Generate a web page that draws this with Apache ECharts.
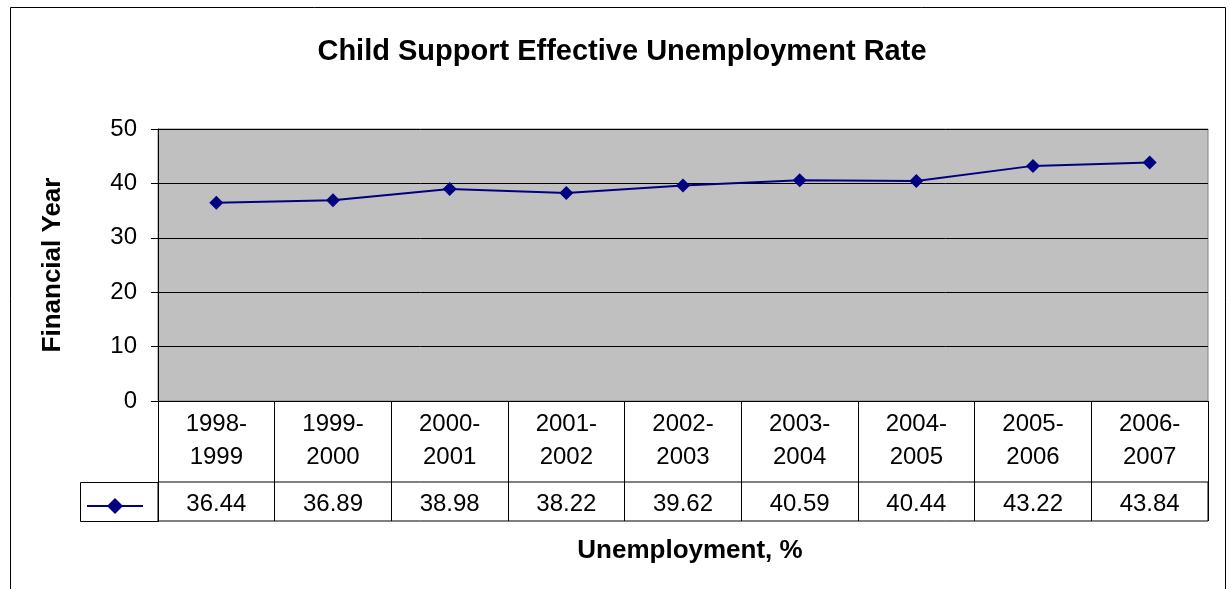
<!DOCTYPE html>
<html>
<head>
<meta charset="utf-8">
<script src="https://cdn.jsdelivr.net/npm/echarts@6/dist/echarts.min.js"></script>
<style>html,body{margin:0;padding:0;background:#fff}#c{width:1230px;height:589px}</style>
</head>
<body>
<div id="c"></div>
<script>
var categories = ['1998-\n1999','1999-\n2000','2000-\n2001','2001-\n2002','2002-\n2003','2003-\n2004','2004-\n2005','2005-\n2006','2006-\n2007'];
var values = [36.44, 36.89, 38.98, 38.22, 39.62, 40.59, 40.44, 43.22, 43.84];
var yTicks = {min: 0, max: 50, interval: 10};
var seriesName = 'Unemployment';

var FONT = '"Liberation Sans", Arial, sans-serif';
var chart = echarts.init(document.getElementById('c'), null, {renderer: 'canvas'});
var option = {
  backgroundColor: '#fff',
  animation: false,
  title: [
    {text: 'Child Support Effective Unemployment Rate', left: 617, top: 32, textAlign: 'center',
     textStyle: {fontFamily: FONT, fontSize: 29, fontWeight: 'bold', color: '#000'}},
    {text: 'Unemployment, %', left: 685, top: 533, textAlign: 'center',
     textStyle: {fontFamily: FONT, fontSize: 26, fontWeight: 'bold', color: '#000'}}
  ],
  legend: {
    show: true, left: 86, top: 496, itemWidth: 56, itemHeight: 20,
    data: [{name: seriesName}], formatter: function(){ return ''; },
    itemGap: 0, padding: 0, selectedMode: false
  },
  grid: [
    {left: 158, right: 22, top: 129, height: 272, show: true, backgroundColor: '#C0C0C0', borderColor: '#808080', borderWidth: 1},
    {left: 158, right: 22, top: 482, height: 39, show: true, backgroundColor: 'transparent', borderColor: '#000', borderWidth: 1}
  ],
  xAxis: [
    {type: 'category', gridIndex: 0, data: categories, boundaryGap: true,
     axisLine: {show: true, lineStyle: {color: '#000', width: 1}},
     axisTick: {show: true, interval: 0, length: 120, lineStyle: {color: '#000', width: 1}},
     axisLabel: {interval: 0, margin: 7, fontFamily: FONT, fontSize: 24, lineHeight: 33, color: '#000'},
     splitLine: {show: false}},
    {type: 'category', gridIndex: 1, data: values.map(function(v){return v.toFixed(2);}), boundaryGap: true,
     position: 'bottom',
     axisLine: {show: false}, axisTick: {show: false},
     axisLabel: {interval: 0, inside: true, margin: 5, fontFamily: FONT, fontSize: 24, color: '#000'}}
  ],
  yAxis: [
    {type: 'value', gridIndex: 0, min: yTicks.min, max: yTicks.max, interval: yTicks.interval,
     name: 'Financial Year', nameLocation: 'middle', nameGap: 92,
     nameTextStyle: {fontFamily: FONT, fontSize: 26, fontWeight: 'bold', color: '#000'},
     axisLine: {show: true, lineStyle: {color: '#000'}},
     axisTick: {show: true, length: 7, lineStyle: {color: '#000'}},
     axisLabel: {margin: 21, fontFamily: FONT, fontSize: 24, color: '#000'},
     splitLine: {show: true, lineStyle: {color: '#000', width: 1}}},
    {type: 'value', gridIndex: 1, show: false}
  ],
  series: [
    {name: seriesName, type: 'line', xAxisIndex: 0, yAxisIndex: 0, data: values,
     symbol: 'diamond', symbolSize: 14, showSymbol: true,
     lineStyle: {color: '#000080', width: 2}, itemStyle: {color: '#000080'}}
  ],
  graphic: [
    {type: 'rect', shape: {x: 10.5, y: 7.5, width: 1215, height: 620}, style: {fill: 'none', stroke: '#000', lineWidth: 1}, silent: true},
    {type: 'rect', shape: {x: 80.5, y: 482.5, width: 78, height: 39}, style: {fill: 'none', stroke: '#000', lineWidth: 1}, silent: true}
  ]
};
chart.setOption(option);
</script>
</body>
</html>
